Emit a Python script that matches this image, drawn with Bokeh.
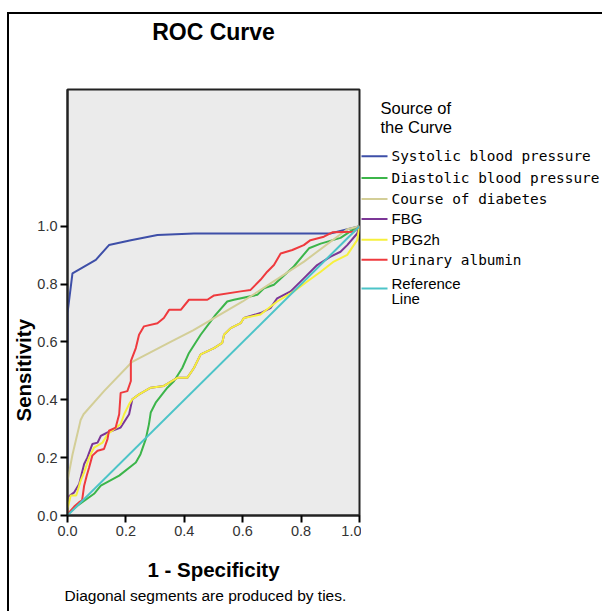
from bokeh.plotting import figure
from bokeh.models import Range1d, FixedTicker, Title
from bokeh.layouts import row
from bokeh.embed import file_html
from bokeh.resources import INLINE
from bokeh.core.properties import value

# ---- data ----
tick_values = [0.0, 0.2, 0.4, 0.6, 0.8, 1.0]
tick_labels = ["0.0", "0.2", "0.4", "0.6", "0.8", "1.0"]

systolic_fpr = [0, 0, 0.017, 0.097, 0.142, 0.217, 0.308, 0.433, 0.52, 0.90, 1.0]
systolic_tpr = [0, 0.70, 0.837, 0.884, 0.935, 0.952, 0.970, 0.975, 0.975, 0.975, 1.0]

diastolic_fpr = [0, 0.002, 0.034, 0.091, 0.114, 0.177, 0.234, 0.25, 0.268, 0.279, 0.285,
                 0.302, 0.342, 0.365, 0.393, 0.416, 0.456, 0.507, 0.547, 0.57, 0.65, 0.673,
                 0.707, 0.775, 0.827, 0.867, 0.935, 0.992, 1.0]
diastolic_tpr = [0, 0.006, 0.034, 0.075, 0.103, 0.138, 0.183, 0.212, 0.264, 0.316, 0.356,
                 0.39, 0.442, 0.465, 0.51, 0.562, 0.625, 0.694, 0.74, 0.746, 0.763, 0.786,
                 0.798, 0.861, 0.924, 0.94, 0.96, 0.998, 1.0]

course_fpr = [0, 0, 0.017, 0.045, 0.055, 0.125, 0.22, 0.353, 0.43, 0.6, 0.81, 0.958, 1.0]
course_tpr = [0, 0.12, 0.21, 0.33, 0.35, 0.43, 0.53, 0.60, 0.64, 0.74, 0.878, 0.99, 1.0]

fbg_fpr = [0, 0, 0.023, 0.04, 0.057, 0.068, 0.085, 0.103, 0.114, 0.137, 0.182, 0.211, 0.222,
           0.245, 0.285, 0.33, 0.376, 0.41, 0.433, 0.456, 0.502, 0.53, 0.536, 0.559, 0.593,
           0.604, 0.661, 0.695, 0.718, 0.764, 0.809, 0.855, 0.901, 0.935, 0.958, 0.992, 1.0]
fbg_tpr = [0, 0.063, 0.08, 0.109, 0.178, 0.2, 0.247, 0.252, 0.275, 0.287, 0.304, 0.35, 0.402,
           0.419, 0.442, 0.448, 0.476, 0.476, 0.51, 0.557, 0.579, 0.597, 0.625, 0.648, 0.665,
           0.683, 0.70, 0.717, 0.751, 0.775, 0.82, 0.866, 0.895, 0.912, 0.935, 0.975, 1.0]

pbg_fpr = [0, 0, 0.011, 0.03, 0.045, 0.057, 0.074, 0.091, 0.12, 0.137, 0.182, 0.194, 0.211,
           0.222, 0.245, 0.285, 0.33, 0.376, 0.41, 0.433, 0.456, 0.502, 0.53, 0.536, 0.559,
           0.593, 0.604, 0.661, 0.718, 0.775, 0.821, 0.867, 0.912, 0.958, 0.992, 1.0]
pbg_tpr = [0, 0.023, 0.069, 0.069, 0.12, 0.149, 0.2, 0.235, 0.252, 0.281, 0.316, 0.35, 0.385,
           0.402, 0.419, 0.442, 0.448, 0.476, 0.476, 0.51, 0.557, 0.579, 0.597, 0.625, 0.648,
           0.665, 0.683, 0.695, 0.74, 0.775, 0.809, 0.843, 0.878, 0.901, 0.952, 1.0]

urine_fpr = [0, 0.002, 0.023, 0.04, 0.05, 0.057, 0.066, 0.074, 0.085, 0.103, 0.125, 0.137,
             0.142, 0.165, 0.177, 0.182, 0.205, 0.217, 0.217, 0.234, 0.245, 0.262, 0.308,
             0.33, 0.348, 0.388, 0.416, 0.479, 0.502, 0.593, 0.627, 0.661, 0.684, 0.707,
             0.73, 0.77, 0.809, 0.832, 0.878, 0.907, 0.98, 1.0]
urine_tpr = [0, 0.006, 0.031, 0.046, 0.052, 0.103, 0.138, 0.166, 0.207, 0.224, 0.23, 0.264,
             0.293, 0.304, 0.35, 0.424, 0.43, 0.465, 0.534, 0.579, 0.625, 0.654, 0.665,
             0.683, 0.711, 0.711, 0.746, 0.746, 0.761, 0.775, 0.78, 0.815, 0.843, 0.866,
             0.906, 0.918, 0.935, 0.952, 0.964, 0.979, 0.981, 1.0]

ref_fpr = [0, 1]
ref_tpr = [0, 1]

series_names = ["Systolic blood pressure", "Diastolic blood pressure", "Course of diabetes",
                "FBG", "PBG2h", "Urinary albumin", "Reference Line"]
series_colors = ["#3e4fa8", "#3cb54a", "#d3ce97", "#7b3696", "#f6f03c", "#ef3a3e", "#4cc4c8"]
series_x = [systolic_fpr, diastolic_fpr, course_fpr, fbg_fpr, pbg_fpr, urine_fpr, ref_fpr]
series_y = [systolic_tpr, diastolic_tpr, course_tpr, fbg_tpr, pbg_tpr, urine_tpr, ref_tpr]
legend_fonts = ["DejaVu Sans Mono", "DejaVu Sans Mono", "DejaVu Sans Mono",
                "Liberation Sans", "Liberation Sans", "DejaVu Sans Mono", "Liberation Sans"]

# ---- layout constants (pixels) ----
ML, MT, BW = 7, 12, 2               # outer margin and border width
CX, CY = ML + BW, MT + BW           # canvas origin on the page
FRAME_L, FRAME_T, FRAME_W, FRAME_H = 66, 87, 293, 428
MB_LEFT = FRAME_L - CX
MB_TOP = FRAME_T - CY
P_W = MB_LEFT + FRAME_W + 2
H = 611 - CY
MB_BOTTOM = H - MB_TOP - FRAME_H
LG_X0 = CX + P_W
LG_W = 602 - LG_X0
FRAME_B = FRAME_T + FRAME_H

# ---- main plot ----
p = figure(width=P_W, height=H, x_range=Range1d(0, 1), y_range=Range1d(0, 1.473),
           output_backend="svg", toolbar_location=None,
           min_border_left=MB_LEFT, min_border_right=P_W - MB_LEFT - FRAME_W,
           min_border_top=MB_TOP, min_border_bottom=MB_BOTTOM)
p.background_fill_color = "#ebebeb"
p.border_fill_color = "white"
p.outline_line_color = "#222222"
p.outline_line_width = 2
p.grid.visible = False

p.title.text = "ROC Curve"
p.title.align = "center"
p.title.text_font = "Liberation Sans"
p.title.text_font_size = "23px"
p.title.text_font_style = "bold"
p.title.text_color = "black"
p.title.standoff = 4

spacer = Title(text=" ", text_font_size="1px", standoff=40)
p.add_layout(spacer, "above")

for ax in (p.xaxis, p.yaxis):
    ax.ticker = FixedTicker(ticks=tick_values)
    ax.major_label_overrides = {v: s for v, s in zip(tick_values, tick_labels)}
    ax.major_tick_in = 0
    ax.major_tick_out = 7
    ax.minor_tick_line_color = None
    ax.major_tick_line_width = 2
    ax.major_tick_line_color = "black"
    ax.axis_line_width = 2
    ax.axis_line_color = "#222222"
    ax.major_label_text_font = "Liberation Sans"
    ax.major_label_text_font_size = "14.5px"
    ax.major_label_text_color = "#333333"
    ax.major_label_standoff = 3

p.xaxis.axis_label = "1 - Specificity"
p.xaxis.axis_label_text_font = "Liberation Sans"
p.xaxis.axis_label_text_font_size = "20.5px"
p.xaxis.axis_label_text_font_style = "bold"
p.xaxis.axis_label_text_color = "black"
p.xaxis.axis_label_standoff = 19

ylab = Title(text="Sensitivity", align="left", offset=94, text_font="Liberation Sans",
             text_font_size="20.5px", text_font_style="bold", text_color="black", standoff=0)
p.add_layout(ylab, "left")

foot = Title(text="Diagonal segments are produced by ties.", align="left", offset=-3,
             text_font="Liberation Sans", text_font_size="15.5px", text_font_style="normal",
             text_color="black", standoff=3)
p.add_layout(foot, "below")

for xs, ys, c in zip(series_x, series_y, series_colors):
    p.line(xs, ys, line_color=c, line_width=2)

# ---- legend panel (ranges expressed in page pixels) ----
lg = figure(width=LG_W, height=H, x_range=Range1d(LG_X0, LG_X0 + LG_W),
            y_range=Range1d(FRAME_B, FRAME_T),
            output_backend="svg", toolbar_location=None,
            min_border_left=0, min_border_right=0, min_border_top=MB_TOP,
            min_border_bottom=MB_BOTTOM,
            x_axis_type=None, y_axis_type=None, outline_line_color=None)
lg.grid.visible = False
lg.background_fill_color = "white"
lg.border_fill_color = "white"

lg.text(x=[380, 380], y=[106, 125], text=["Source of", "the Curve"],
        text_font=value("Liberation Sans"), text_font_size="16.5px",
        text_baseline="middle", text_color="black")

entry_y = [154, 176, 197, 217, 238, 258, 287]
for i, (name, c, f) in enumerate(zip(series_names, series_colors, legend_fonts)):
    lg.segment(x0=[LG_X0 - 1], y0=[entry_y[i]], x1=[387], y1=[entry_y[i]], line_color=c,
               line_width=2)
    if name == "Reference Line":
        lg.text(x=[391, 391], y=[282, 297], text=["Reference", "Line"], text_font=value(f),
                text_font_size="15px", text_baseline="middle", text_color="black")
    else:
        size = "14.4px" if "Mono" in f else "15px"
        lg.text(x=[391], y=[entry_y[i]], text=[name], text_font=value(f),
                text_font_size=size, text_baseline="middle", text_color="black")

layout = row(p, lg, styles={"margin-left": f"{ML}px", "margin-top": f"{MT}px",
                            "border-left": f"{BW}px solid black",
                            "border-top": f"{BW}px solid black"})

open("out.html", "w").write(file_html(layout, INLINE))
